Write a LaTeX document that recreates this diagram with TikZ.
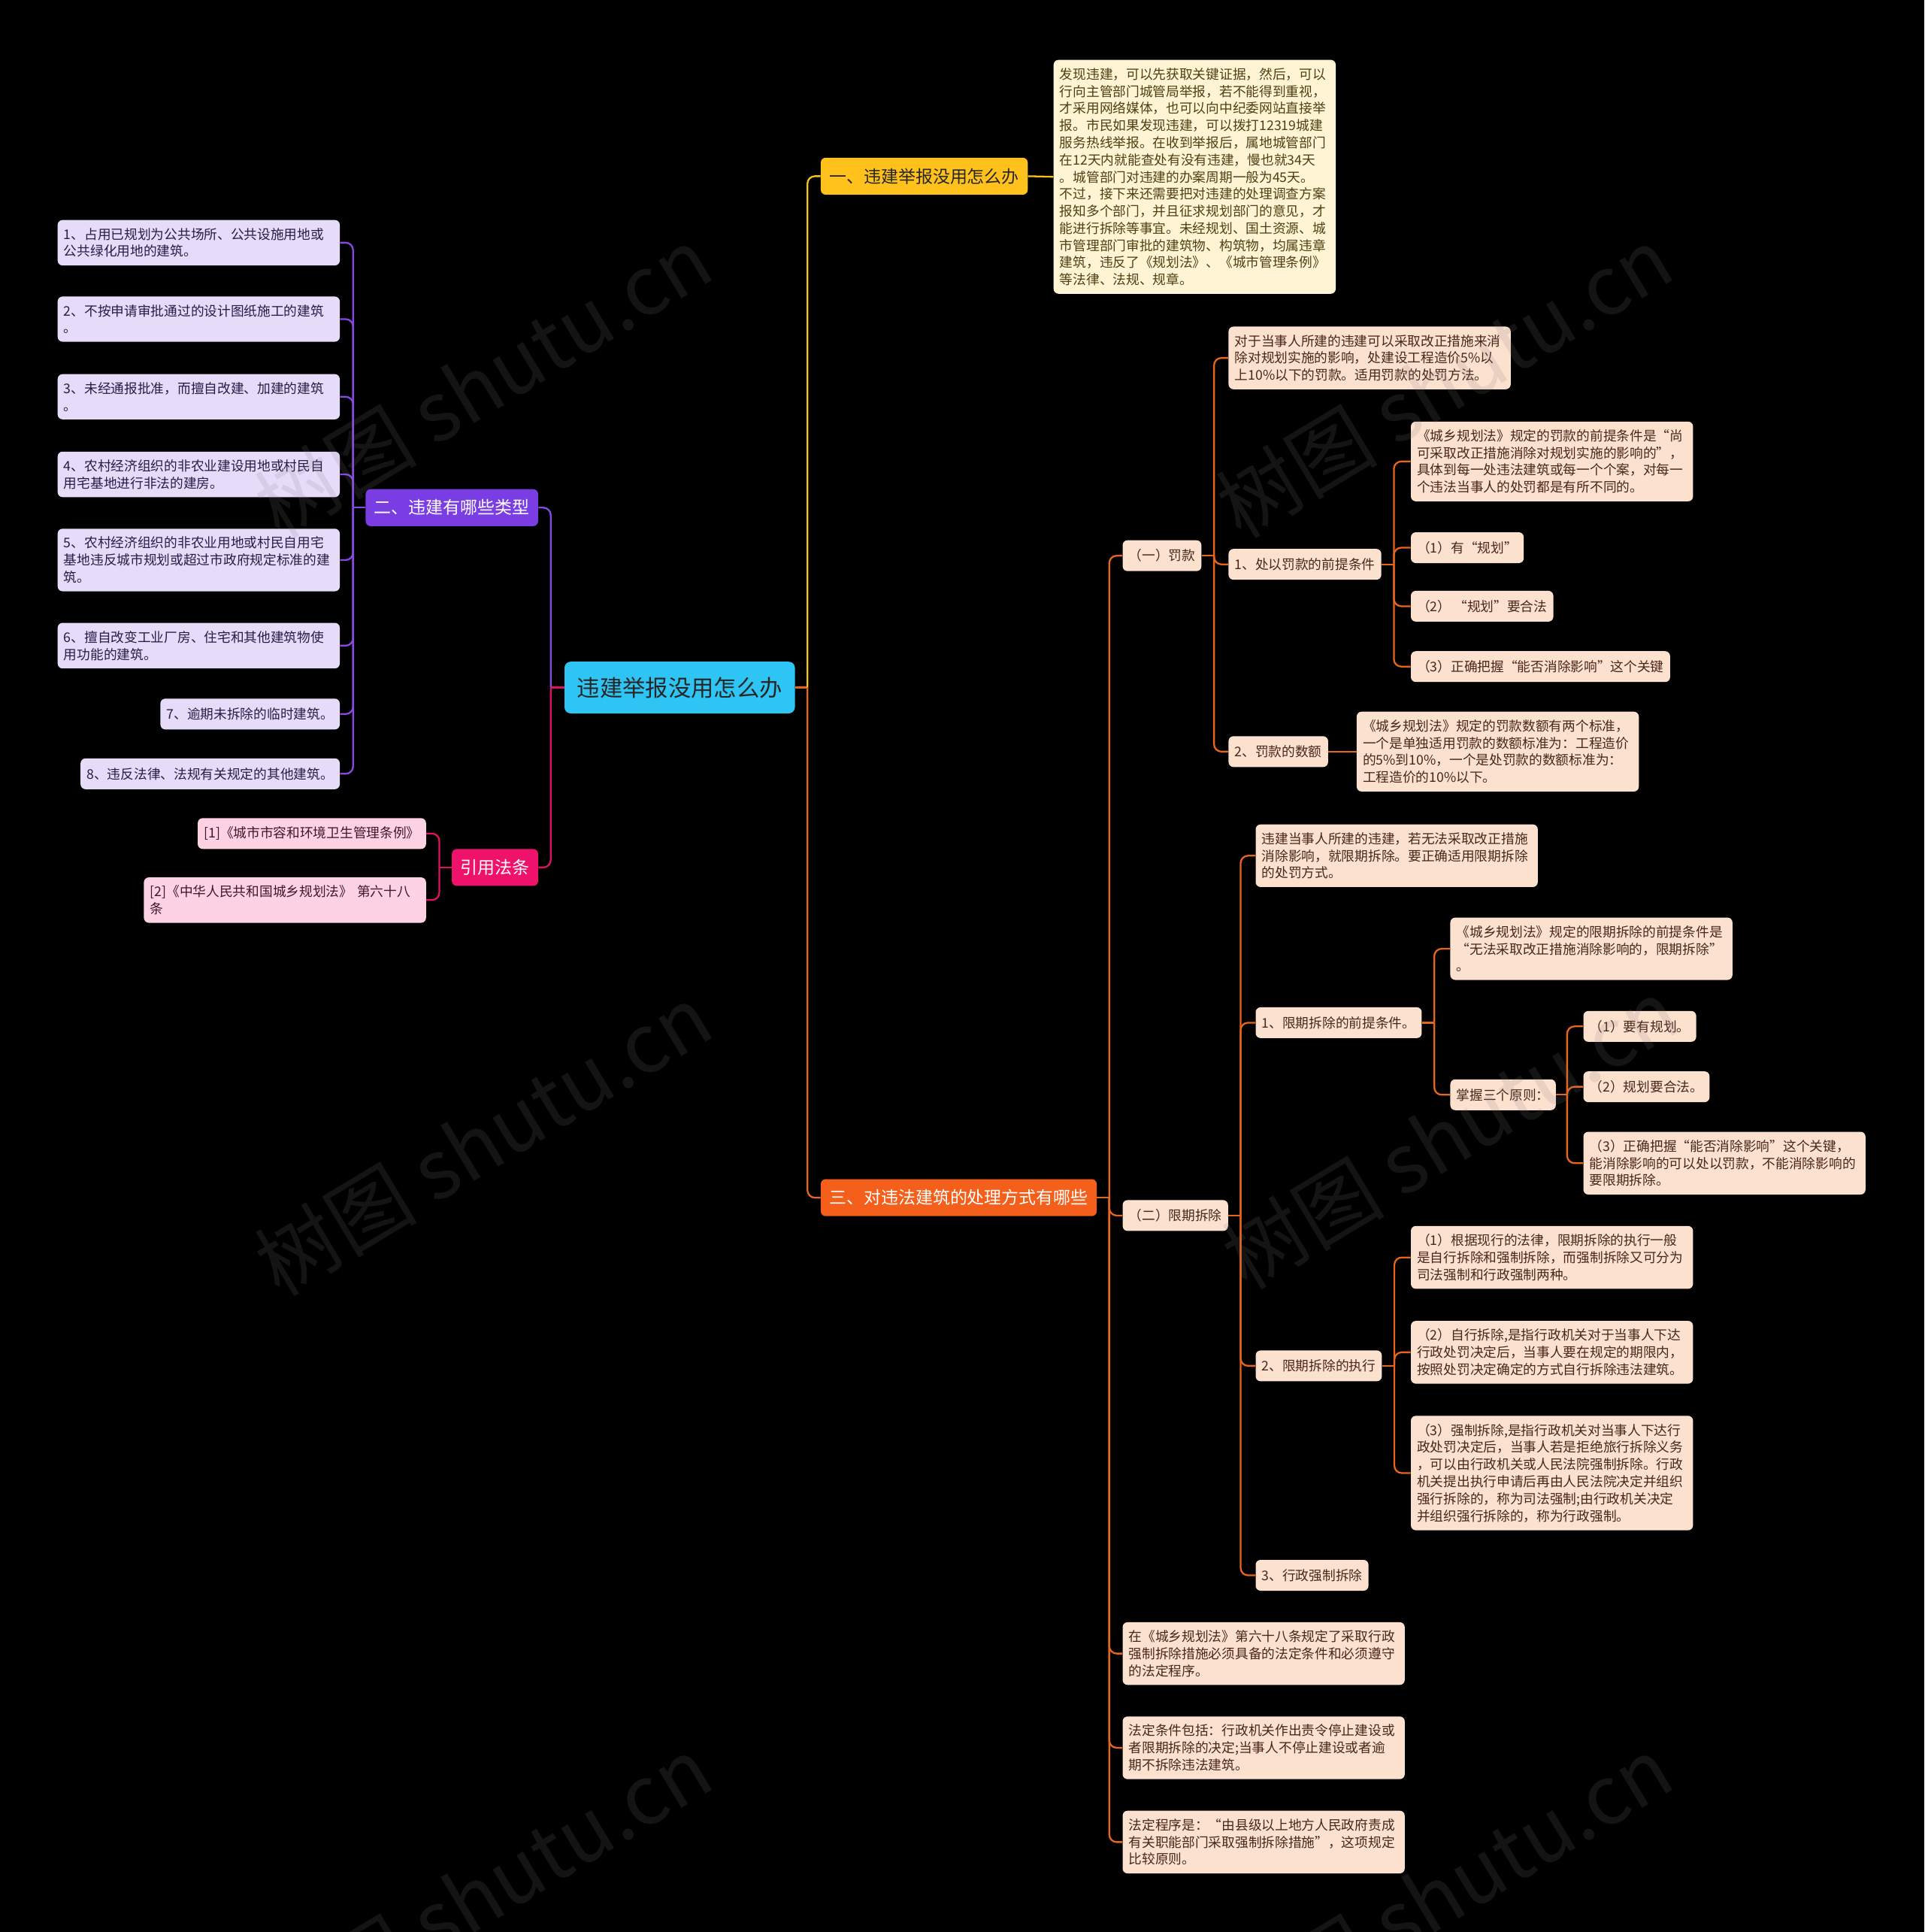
\documentclass[tikz,border=0pt]{standalone}
\usepackage{fontspec}
\setmainfont{Noto Sans CJK SC}
\usetikzlibrary{calc}

\definecolor{rootfill}{HTML}{2EC4F3}
\definecolor{yelfill}{HTML}{FFC21C}
\definecolor{yelleaf}{HTML}{FFF4D4}
\definecolor{yeltext}{HTML}{4F3F12}
\definecolor{yelline}{HTML}{F5C21A}
\definecolor{purfill}{HTML}{7A3CE3}
\definecolor{purleaf}{HTML}{E7DBFA}
\definecolor{purtext}{HTML}{2B1B47}
\definecolor{purline}{HTML}{8848E6}
\definecolor{orafill}{HTML}{F45F1B}
\definecolor{oraleaf}{HTML}{FDE1CF}
\definecolor{oratext}{HTML}{47271A}
\definecolor{oraline}{HTML}{E8651E}
\definecolor{pinkfill}{HTML}{EF126B}
\definecolor{pinkleaf}{HTML}{FDD2E2}
\definecolor{pinktext}{HTML}{3D1A2A}
\definecolor{pinkline}{HTML}{DC1260}

\newcommand{\leaffont}{\fontsize{10.8}{13.9}\selectfont}
\newcommand{\branchfont}{\fontsize{14}{16}\selectfont}
\newcommand{\rootfont}{\fontsize{18.5}{20}\selectfont}
\newcommand{\markfont}{\fontsize{66}{66}\selectfont}

\begin{document}
\begin{tikzpicture}
    [x=1pt, y=-1pt,
    box/.style={rounded corners=4pt, inner xsep=5pt, inner ysep=6.5pt, minimum height=25pt, font=\leaffont},
    wide/.style={text width=219pt, align=left},
    branch/.style={rounded corners=4pt, inner xsep=7pt, minimum height=30pt, font=\branchfont, anchor=west},
    purbox/.style={box, fill=purleaf, text=purtext, anchor=east},
    pinkbox/.style={box, fill=pinkleaf, text=pinktext, anchor=east},
    orabox/.style={box, fill=oraleaf, text=oratext, anchor=west},
    link/.style={line width=1.4pt, rounded corners=6pt},
    yline/.style={link, yelline},
    pline/.style={link, purline},
    oline/.style={link, oraline},
    kline/.style={link, pinkline},
    wmark/.style={font=\markfont, text=black!50, opacity=0.16, rotate=31}]

    \fill[black] (0,0) rectangle (1562,1568);
    \useasboundingbox (0,0) rectangle (1562,1568);

    % centre and main branches
    \node[rounded corners=5pt, fill=rootfill, text=black!85, font=\rootfont, minimum width=187pt, minimum height=42pt, anchor=west] (root) at (458,558) {违建举报没用怎么办};
    \node[branch, fill=yelfill, text=black!85] (b1) at (666,143) {一、违建举报没用怎么办};
    \node[branch, fill=purfill, text=white, anchor=east] (b2) at (437,412) {二、违建有哪些类型};
    \node[branch, fill=orafill, text=white] (b3) at (666,972) {三、对违法建筑的处理方式有哪些};
    \node[branch, fill=pinkfill, text=white, anchor=east] (b4) at (437,704) {引用法条};

    % branch one
    \node[box, wide, fill=yelleaf, text=yeltext, anchor=west] (b1leaf) at (855,143.5) {发现违建，可以先获取关键证据，然后，可以\\行向主管部门城管局举报，若不能得到重视，\\才采用网络媒体，也可以向中纪委网站直接举\\报。市民如果发现违建，可以拨打12319城建\\服务热线举报。在收到举报后，属地城管部门\\在12天内就能查处有没有违建，慢也就34天\\。城管部门对违建的办案周期一般为45天。\\不过，接下来还需要把对违建的处理调查方案\\报知多个部门，并且征求规划部门的意见，才\\能进行拆除等事宜。未经规划、国土资源、城\\市管理部门审批的建筑物、构筑物，均属违章\\建筑，违反了《规划法》、《城市管理条例》\\等法律、法规、规章。};

    % branch two
    \node[purbox, wide] (p1) at (276,197) {1、占用已规划为公共场所、公共设施用地或\\公共绿化用地的建筑。};
    \node[purbox, wide] (p2) at (276,259) {2、不按申请审批通过的设计图纸施工的建筑\\。};
    \node[purbox, wide] (p3) at (276,322) {3、未经通报批准，而擅自改建、加建的建筑\\。};
    \node[purbox, wide] (p4) at (276,385) {4、农村经济组织的非农业建设用地或村民自\\用宅基地进行非法的建房。};
    \node[purbox, wide] (p5) at (276,454.5) {5、农村经济组织的非农业用地或村民自用宅\\基地违反城市规划或超过市政府规定标准的建\\筑。};
    \node[purbox, wide] (p6) at (276,524) {6、擅自改变工业厂房、住宅和其他建筑物使\\用功能的建筑。};
    \node[purbox] (p7) at (276,579.5) {7、逾期未拆除的临时建筑。};
    \node[purbox] (p8) at (276,628) {8、违反法律、法规有关规定的其他建筑。};

    % references
    \node[pinkbox] (r1) at (346,676.5) {[1]《城市市容和环境卫生管理条例》};
    \node[pinkbox, wide] (r2) at (346,730.5) {\mbox{[2]《中华人民共和国城乡规划法》 第六十八}\\条};

    % branch three
    \node[orabox] (c1) at (911,451) {（一）罚款};
    \node[orabox, wide] (c1a) at (997,290.5) {对于当事人所建的违建可以采取改正措施来消\\除对规划实施的影响，处建设工程造价5\%以\\上10\%以下的罚款。适用罚款的处罚方法。};
    \node[orabox] (c1b) at (997,458) {1、处以罚款的前提条件};
    \node[orabox, wide] (c1b1) at (1145,374.5) {《城乡规划法》规定的罚款的前提条件是“尚\\可采取改正措施消除对规划实施的影响的”，\\具体到每一处违法建筑或每一个个案，对每一\\个违法当事人的处罚都是有所不同的。};
    \node[orabox] (c1b2) at (1145,444.5) {（1）有“规划”};
    \node[orabox] (c1b3) at (1145,492) {（2） “规划”要合法};
    \node[orabox] (c1b4) at (1145,541) {（3）正确把握“能否消除影响”这个关键};
    \node[orabox] (c1c) at (997,610) {2、罚款的数额};
    \node[orabox, wide] (c1c1) at (1101,610) {《城乡规划法》规定的罚款数额有两个标准，\\一个是单独适用罚款的数额标准为：工程造价\\的5\%到10\%，一个是处罚款的数额标准为：\\工程造价的10\%以下。};

    \node[orabox] (c2) at (911,986.5) {（二）限期拆除};
    \node[orabox, wide] (c2a) at (1019,694.5) {违建当事人所建的违建，若无法采取改正措施\\消除影响，就限期拆除。要正确适用限期拆除\\的处罚方式。};
    \node[orabox] (c2b) at (1019,830) {1、限期拆除的前提条件。};
    \node[orabox, wide] (c2b1) at (1177,770) {《城乡规划法》规定的限期拆除的前提条件是\\“无法采取改正措施消除影响的，限期拆除”\\。};
    \node[orabox] (c2b2) at (1177,888.5) {掌握三个原则：};
    \node[orabox] (c2b2a) at (1285,833) {（1）要有规划。};
    \node[orabox] (c2b2b) at (1285,882) {（2）规划要合法。};
    \node[orabox, wide] (c2b2c) at (1285,944) {（3）正确把握“能否消除影响”这个关键，\\能消除影响的可以处以罚款，不能消除影响的\\要限期拆除。};
    \node[orabox] (c2c) at (1019,1108.5) {2、限期拆除的执行};
    \node[orabox, wide] (c2c1) at (1145,1020.5) {（1）根据现行的法律，限期拆除的执行一般\\是自行拆除和强制拆除，而强制拆除又可分为\\司法强制和行政强制两种。};
    \node[orabox, wide] (c2c2) at (1145,1097.5) {（2）自行拆除,是指行政机关对于当事人下达\\行政处罚决定后，当事人要在规定的期限内，\\按照处罚决定确定的方式自行拆除违法建筑。};
    \node[orabox, wide] (c2c3) at (1145,1195.5) {（3）强制拆除,是指行政机关对当事人下达行\\政处罚决定后，当事人若是拒绝旅行拆除义务\\，可以由行政机关或人民法院强制拆除。行政\\机关提出执行申请后再由人民法院决定并组织\\强行拆除的，称为司法强制;由行政机关决定\\并组织强行拆除的，称为行政强制。};
    \node[orabox] (c2d) at (1019,1278.5) {3、行政强制拆除};

    \node[orabox, wide] (c3) at (911,1342) {在《城乡规划法》第六十八条规定了采取行政\\强制拆除措施必须具备的法定条件和必须遵守\\的法定程序。};
    \node[orabox, wide] (c4) at (911,1418.5) {法定条件包括：行政机关作出责令停止建设或\\者限期拆除的决定;当事人不停止建设或者逾\\期不拆除违法建筑。};
    \node[orabox, wide] (c5) at (911,1495) {\mbox{法定程序是：“由县级以上地方人民政府责成}\\有关职能部门采取强制拆除措施”，这项规定\\比较原则。};

    % junctions
    \coordinate (jr) at ($(root.east)+(10,0)$);
    \coordinate (jl) at ($(root.west)+(-11,0)$);
    \coordinate (j2) at ($(b2.west)+(-10,0)$);
    \coordinate (j4) at ($(b4.west)+(-10,0)$);
    \coordinate (j3) at ($(b3.east)+(10,0)$);
    \coordinate (jc1) at ($(c1.east)+(10,0)$);
    \coordinate (jc1b) at ($(c1b.east)+(10,0)$);
    \coordinate (jc2) at ($(c2.east)+(10,0)$);
    \coordinate (jc2b) at ($(c2b.east)+(10,0)$);
    \coordinate (jc2b2) at ($(c2b2.east)+(9,0)$);
    \coordinate (jc2c) at ($(c2c.east)+(10,0)$);

    % connectors
    \draw[oline] (root.east) -- (jr);
    \draw[yline] (jr) |- (b1.west);
    \draw[oline] (jr) |- (b3.west);
    \draw[kline] (root.west) -- (jl);
    \draw[pline] (jl) |- (b2.east);
    \draw[kline] (jl) |- (b4.east);

    \draw[yline] (b1.east) -- (b1leaf.west);

    \draw[pline] (b2.west) -- (j2);
    \foreach \i in {1,...,8}
        \draw[pline] (j2) |- (p\i.east);

    \draw[kline] (b4.west) -- (j4);
    \foreach \i in {1,2}
        \draw[kline] (j4) |- (r\i.east);

    \draw[oline] (b3.east) -- (j3);
    \foreach \n in {c1,c2,c3,c4,c5}
        \draw[oline] (j3) |- (\n.west);

    \draw[oline] (c1.east) -- (jc1);
    \foreach \n in {c1a,c1b,c1c}
        \draw[oline] (jc1) |- (\n.west);
    \draw[oline] (c1b.east) -- (jc1b);
    \foreach \n in {c1b1,c1b2,c1b3,c1b4}
        \draw[oline] (jc1b) |- (\n.west);
    \draw[oline] (c1c.east) -- (c1c1.west);

    \draw[oline] (c2.east) -- (jc2);
    \foreach \n in {c2a,c2b,c2c,c2d}
        \draw[oline] (jc2) |- (\n.west);
    \draw[oline] (c2b.east) -- (jc2b);
    \foreach \n in {c2b1,c2b2}
        \draw[oline] (jc2b) |- (\n.west);
    \draw[oline] (c2b2.east) -- (jc2b2);
    \foreach \n in {c2b2a,c2b2b,c2b2c}
        \draw[oline] (jc2b2) |- (\n.west);
    \draw[oline] (c2c.east) -- (jc2c);
    \foreach \n in {c2c1,c2c2,c2c3}
        \draw[oline] (jc2c) |- (\n.west);

    % watermark
    \node[wmark] (wm1) at (392,310) {树图 shutu.cn};
    \node[wmark] (wm2) at (392,925) {树图 shutu.cn};
    \node[wmark] (wm3) at (392,1535) {树图 shutu.cn};
    \node[wmark] (wm4) at (1172,310) {树图 shutu.cn};
    \node[wmark] (wm5) at (1177,920) {树图 shutu.cn};
    \node[wmark] (wm6) at (1172,1535) {树图 shutu.cn};
\end{tikzpicture}
\end{document}
